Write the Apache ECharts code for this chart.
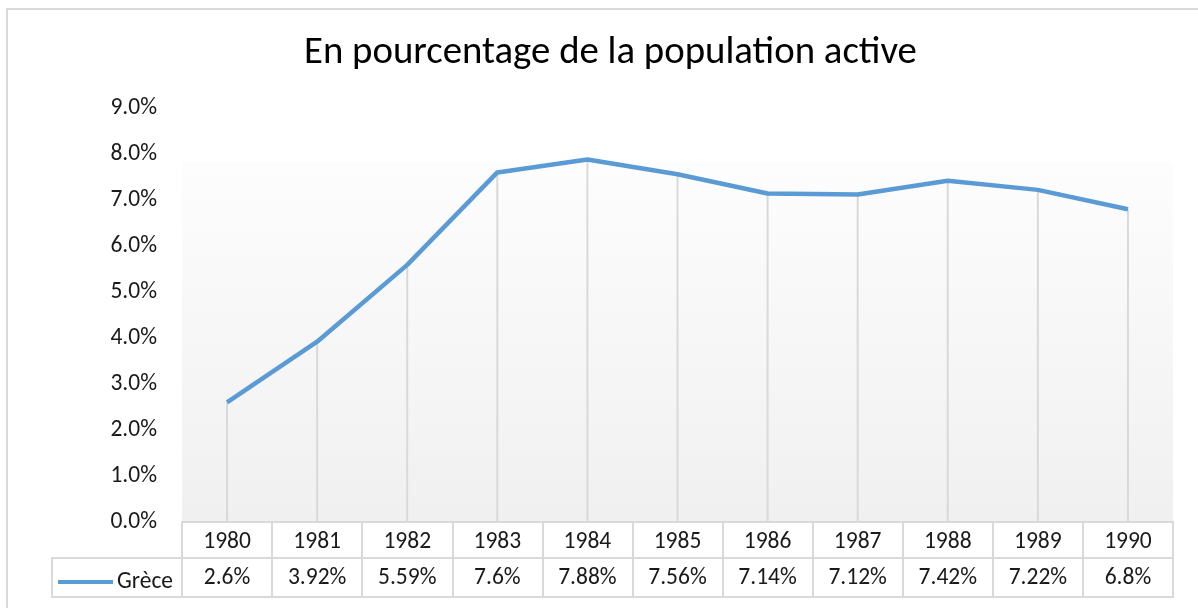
<!DOCTYPE html>
<html>
<head>
<meta charset="utf-8">
<script src="https://cdn.jsdelivr.net/npm/echarts@6/dist/echarts.min.js"></script>
<style>
  html, body { margin: 0; padding: 0; background: #ffffff; }
  #chart { width: 1198px; height: 608px; }
</style>
</head>
<body>
<div id="chart"></div>
<script>
// Unemployment rate, Greece, 1980-1990 (% of labour force)
const years = ['1980', '1981', '1982', '1983', '1984', '1985', '1986', '1987', '1988', '1989', '1990'];
const grece = [2.6, 3.92, 5.59, 7.6, 7.88, 7.56, 7.14, 7.12, 7.42, 7.22, 6.8];
const seriesName = 'Grèce';
const titleText = 'En pourcentage de la population active';

const FONT = 'Carlito, Lato, "Noto Sans", sans-serif';
const TXT = '#1a1a1a';
const GRIDC = '#d9d9d9';

const chart = echarts.init(document.getElementById('chart'));

chart.setOption({
  animation: false,
  backgroundColor: '#ffffff',
  title: {
    text: titleText,
    left: 299,
    top: 29,
    textStyle: { fontFamily: FONT, fontSize: 38.8, fontWeight: 'normal', color: '#000000' }
  },
  legend: {
    data: [{ name: seriesName, icon: 'rect' }],
    left: 53,
    top: 565,
    itemWidth: 55,
    itemHeight: 4,
    itemGap: 2,
    textStyle: { fontFamily: FONT, fontSize: 23.5, color: TXT, padding: [0, 0, 0, -1] }
  },
  grid: {
    left: 182,
    right: 25,
    top: 108,
    bottom: 86,
    show: true,
    borderWidth: 0,
    backgroundColor: {
      type: 'linear', x: 0, y: 0, x2: 0, y2: 1,
      colorStops: [
        { offset: 0, color: '#ffffff' },
        { offset: 0.13, color: '#ffffff' },
        { offset: 0.131, color: '#fdfdfd' },
        { offset: 1, color: '#f0f0f0' }
      ]
    }
  },
  xAxis: [
    {
      type: 'category',
      data: years,
      position: 'bottom',
      boundaryGap: true,
      axisLine: { show: true, lineStyle: { color: GRIDC, width: 2 } },
      axisTick: { show: true, length: 75, lineStyle: { color: GRIDC, width: 2 } },
      axisLabel: { margin: 8, fontFamily: FONT, fontSize: 23.5, color: TXT },
      splitLine: { show: false }
    },
    {
      type: 'category',
      data: grece.map(v => v + '%'),
      position: 'bottom',
      offset: 36,
      boundaryGap: true,
      axisLine: { show: true, lineStyle: { color: GRIDC, width: 2 } },
      axisTick: { show: false },
      axisLabel: { margin: 8, fontFamily: FONT, fontSize: 23.5, color: TXT },
      splitLine: { show: false }
    },
    {
      type: 'category',
      data: years,
      position: 'bottom',
      offset: 75,
      boundaryGap: true,
      axisLine: { show: true, lineStyle: { color: GRIDC, width: 2 } },
      axisTick: { show: false },
      axisLabel: { show: false },
      splitLine: { show: false }
    }
  ],
  yAxis: {
    type: 'value',
    min: 0,
    max: 9,
    interval: 1,
    axisLine: { show: false },
    axisTick: { show: false },
    splitLine: { show: false },
    axisLabel: {
      margin: 25,
      fontFamily: FONT,
      fontSize: 23.5,
      color: TXT,
      formatter: v => v.toFixed(1) + '%'
    }
  },
  graphic: [
    // chart frame
    { type: 'rect', shape: { x: 7, y: 9, width: 1300, height: 700 },
      style: { fill: null, stroke: GRIDC, lineWidth: 2 }, silent: true, z: 100 },
    // legend key cell of the data table
    { type: 'rect', shape: { x: 52, y: 558, width: 130, height: 39 },
      style: { fill: null, stroke: GRIDC, lineWidth: 2 }, silent: true, z: 100 }
  ],
  series: [
    {
      // drop lines from each point to the axis
      type: 'bar',
      data: grece,
      barWidth: 2,
      itemStyle: { color: GRIDC },
      silent: true,
      z: 1
    },
    {
      name: seriesName,
      type: 'line',
      data: grece,
      symbol: 'none',
      lineStyle: { color: '#5b9bd5', width: 4.5 },
      itemStyle: { color: '#5b9bd5' },
      z: 5
    }
  ]
});
</script>
</body>
</html>
